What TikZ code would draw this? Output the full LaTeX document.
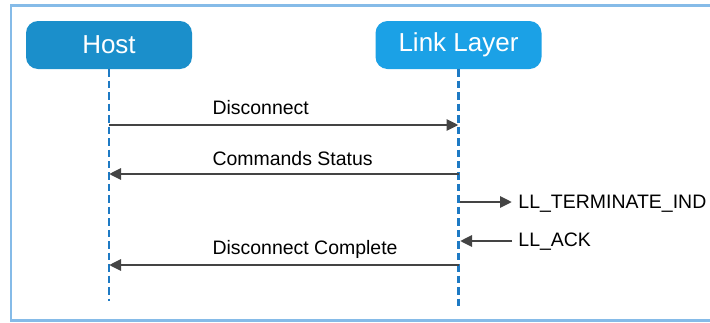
\documentclass[tikz,border=0pt]{standalone}
\usepackage{fontspec}
\setmainfont{Liberation Sans}
\usetikzlibrary{arrows.meta}

\definecolor{hostblue}{RGB}{27,143,203}
\definecolor{linkblue}{RGB}{27,161,230}
\definecolor{lifeblue}{RGB}{30,122,196}
\definecolor{frameblue}{RGB}{133,187,232}
\definecolor{msggray}{RGB}{68,68,68}

\begin{document}
\begin{tikzpicture}[x=0.75pt,y=-0.75pt]
\useasboundingbox (0,0) rectangle (710,322);
\draw [frameblue, line width=1.6pt] (11,5.5) rectangle (730,320.5);

\begin{scope}[every node/.style={rounded corners=9pt,text=white,
              minimum width=124.5pt,minimum height=36pt,
              font=\fontsize{19.5}{22}\selectfont}]
    \node [fill=hostblue] (host) at (109,45) {Host};
    \node [fill=linkblue] (link) at (458.5,45) {Link Layer};
\end{scope}

\coordinate (hostend) at (109,301);
\coordinate (linkend) at (458.5,307);
\foreach \y/\n in {125/1,174/2,265/3} {
    \coordinate (h\n) at (109,\y);
    \coordinate (l\n) at (458.5,\y);
}
\coordinate (t1) at (460,202);
\coordinate (t2) at (512,202);
\coordinate (a1) at (512,241);
\coordinate (a2) at (460,241);

\begin{scope}[lifeblue, line width=2.2pt, dash pattern=on 5.6pt off 3pt]
    \draw (host.south) -- (hostend);
    \draw (link.south) -- (linkend);
\end{scope}

\begin{scope}[>={Triangle[length=9pt,width=8.25pt]},
              every node/.style={anchor=base west,inner sep=0pt,
              font=\fontsize{14.6}{17}\selectfont},
              every edge/.style={draw=msggray,line width=2.2pt}]
    \path [->] (h1) edge node [pos=.292,yshift=8.25pt] {Disconnect} (l1);
    \path [->] (l2) edge node [pos=.708,yshift=6.2pt] {Commands Status} (h2);
    \path [->] (l3) edge node [pos=.708,yshift=8.25pt] {Disconnect Complete} (h3);
    \path [->] (t1) edge node [at end,xshift=3.75pt,yshift=-4.5pt] {LL\_TERMINATE\_IND} (t2);
    \path [->] (a1) edge node [at start,xshift=3.75pt,yshift=-4pt] {LL\_ACK} (a2);
\end{scope}
\end{tikzpicture}
\end{document}
